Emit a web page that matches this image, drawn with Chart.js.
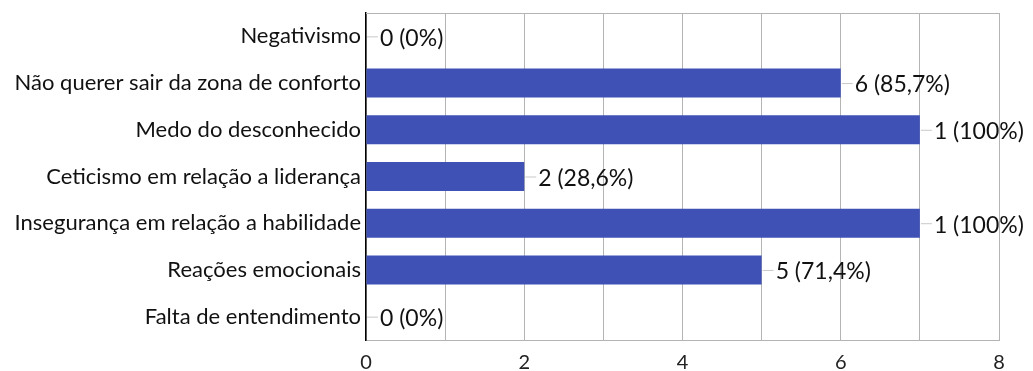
<!DOCTYPE html>
<html>
<head>
<meta charset="utf-8">
<script src="https://cdn.jsdelivr.net/npm/chart.js@4/dist/chart.umd.min.js"></script>
<style>
  html, body { margin: 0; padding: 0; background: #fff; }
  #wrap { width: 1033px; height: 371px; }
</style>
</head>
<body>
<div id="wrap"><canvas id="barChart" width="1033" height="371"></canvas></div>
<script>
        // Chart data
        const categories = [
            'Negativismo',
            'Não querer sair da zona de conforto',
            'Medo do desconhecido',
            'Ceticismo em relação a liderança',
            'Insegurança em relação a habilidade',
            'Reações emocionais',
            'Falta de entendimento'
        ];
        const counts = [0, 6, 7, 2, 7, 5, 0];
        const valueLabels = ['0 (0%)', '6 (85,7%)', '1 (100%)', '2 (28,6%)', '1 (100%)', '5 (71,4%)', '0 (0%)'];
        const xTicks = [0, 2, 4, 6, 8];

        const fontFamily = 'Lato, "Open Sans", sans-serif';

        // Labels next to each bar with a short leader line
        const barLabels = {
            id: 'barLabels',
            afterDatasetsDraw(chart) {
                const ctx = chart.ctx;
                const meta = chart.getDatasetMeta(0);
                ctx.save();
                ctx.font = '23px ' + fontFamily;
                ctx.textBaseline = 'middle';
                ctx.textAlign = 'left';
                meta.data.forEach((bar, i) => {
                    const x = bar.x;
                    const y = bar.y;
                    ctx.strokeStyle = '#c8c8c8';
                    ctx.lineWidth = 1;
                    ctx.beginPath();
                    ctx.moveTo(x + 1, y + 0.5);
                    ctx.lineTo(x + 12, y + 0.5);
                    ctx.stroke();
                    ctx.fillStyle = '#111';
                    ctx.fillText(valueLabels[i], x + 14, y + 2);
                });
                // top border of the plot
                const a = chart.chartArea;
                ctx.strokeStyle = '#b4b4b4';
                ctx.beginPath();
                ctx.moveTo(a.left, a.top + 0.5);
                ctx.lineTo(a.right, a.top + 0.5);
                ctx.stroke();
                ctx.restore();
            }
        };

        const ctx = document.getElementById('barChart').getContext('2d');
        new Chart(ctx, {
            type: 'bar',
            data: {
                labels: categories,
                datasets: [{
                    data: counts,
                    backgroundColor: '#3f51b5',
                    borderWidth: 0,
                    barPercentage: 0.62,
                    categoryPercentage: 1
                }]
            },
            options: {
                indexAxis: 'y',
                responsive: false,
                animation: false,
                layout: { padding: { top: 13, right: 34, left: 0, bottom: 0 } },
                plugins: {
                    legend: { display: false },
                    tooltip: { enabled: false }
                },
                scales: {
                    x: {
                        min: 0,
                        max: 8,
                        ticks: {
                            stepSize: 1,
                            autoSkip: false,
                            maxRotation: 0,
                            color: '#222',
                            padding: 11,
                            font: { size: 20, family: fontFamily },
                            callback: v => xTicks.includes(v) ? String(v) : ''
                        },
                        grid: { color: '#b4b4b4', drawTicks: false, lineWidth: 1 },
                        border: { color: '#b4b4b4' },
                        afterFit: s => { s.height = 31; s.paddingLeft = 0; s.paddingRight = 0; }
                    },
                    y: {
                        ticks: {
                            color: '#111',
                            padding: 5,
                            font: { size: 22, family: fontFamily }
                        },
                        grid: { display: false, drawTicks: false },
                        border: { color: '#000', width: 1.5 },
                        afterFit: s => { s.width = 366; s.paddingTop = 0; s.paddingBottom = 0; }
                    }
                }
            },
            plugins: [barLabels]
        });
</script>
</body>
</html>
